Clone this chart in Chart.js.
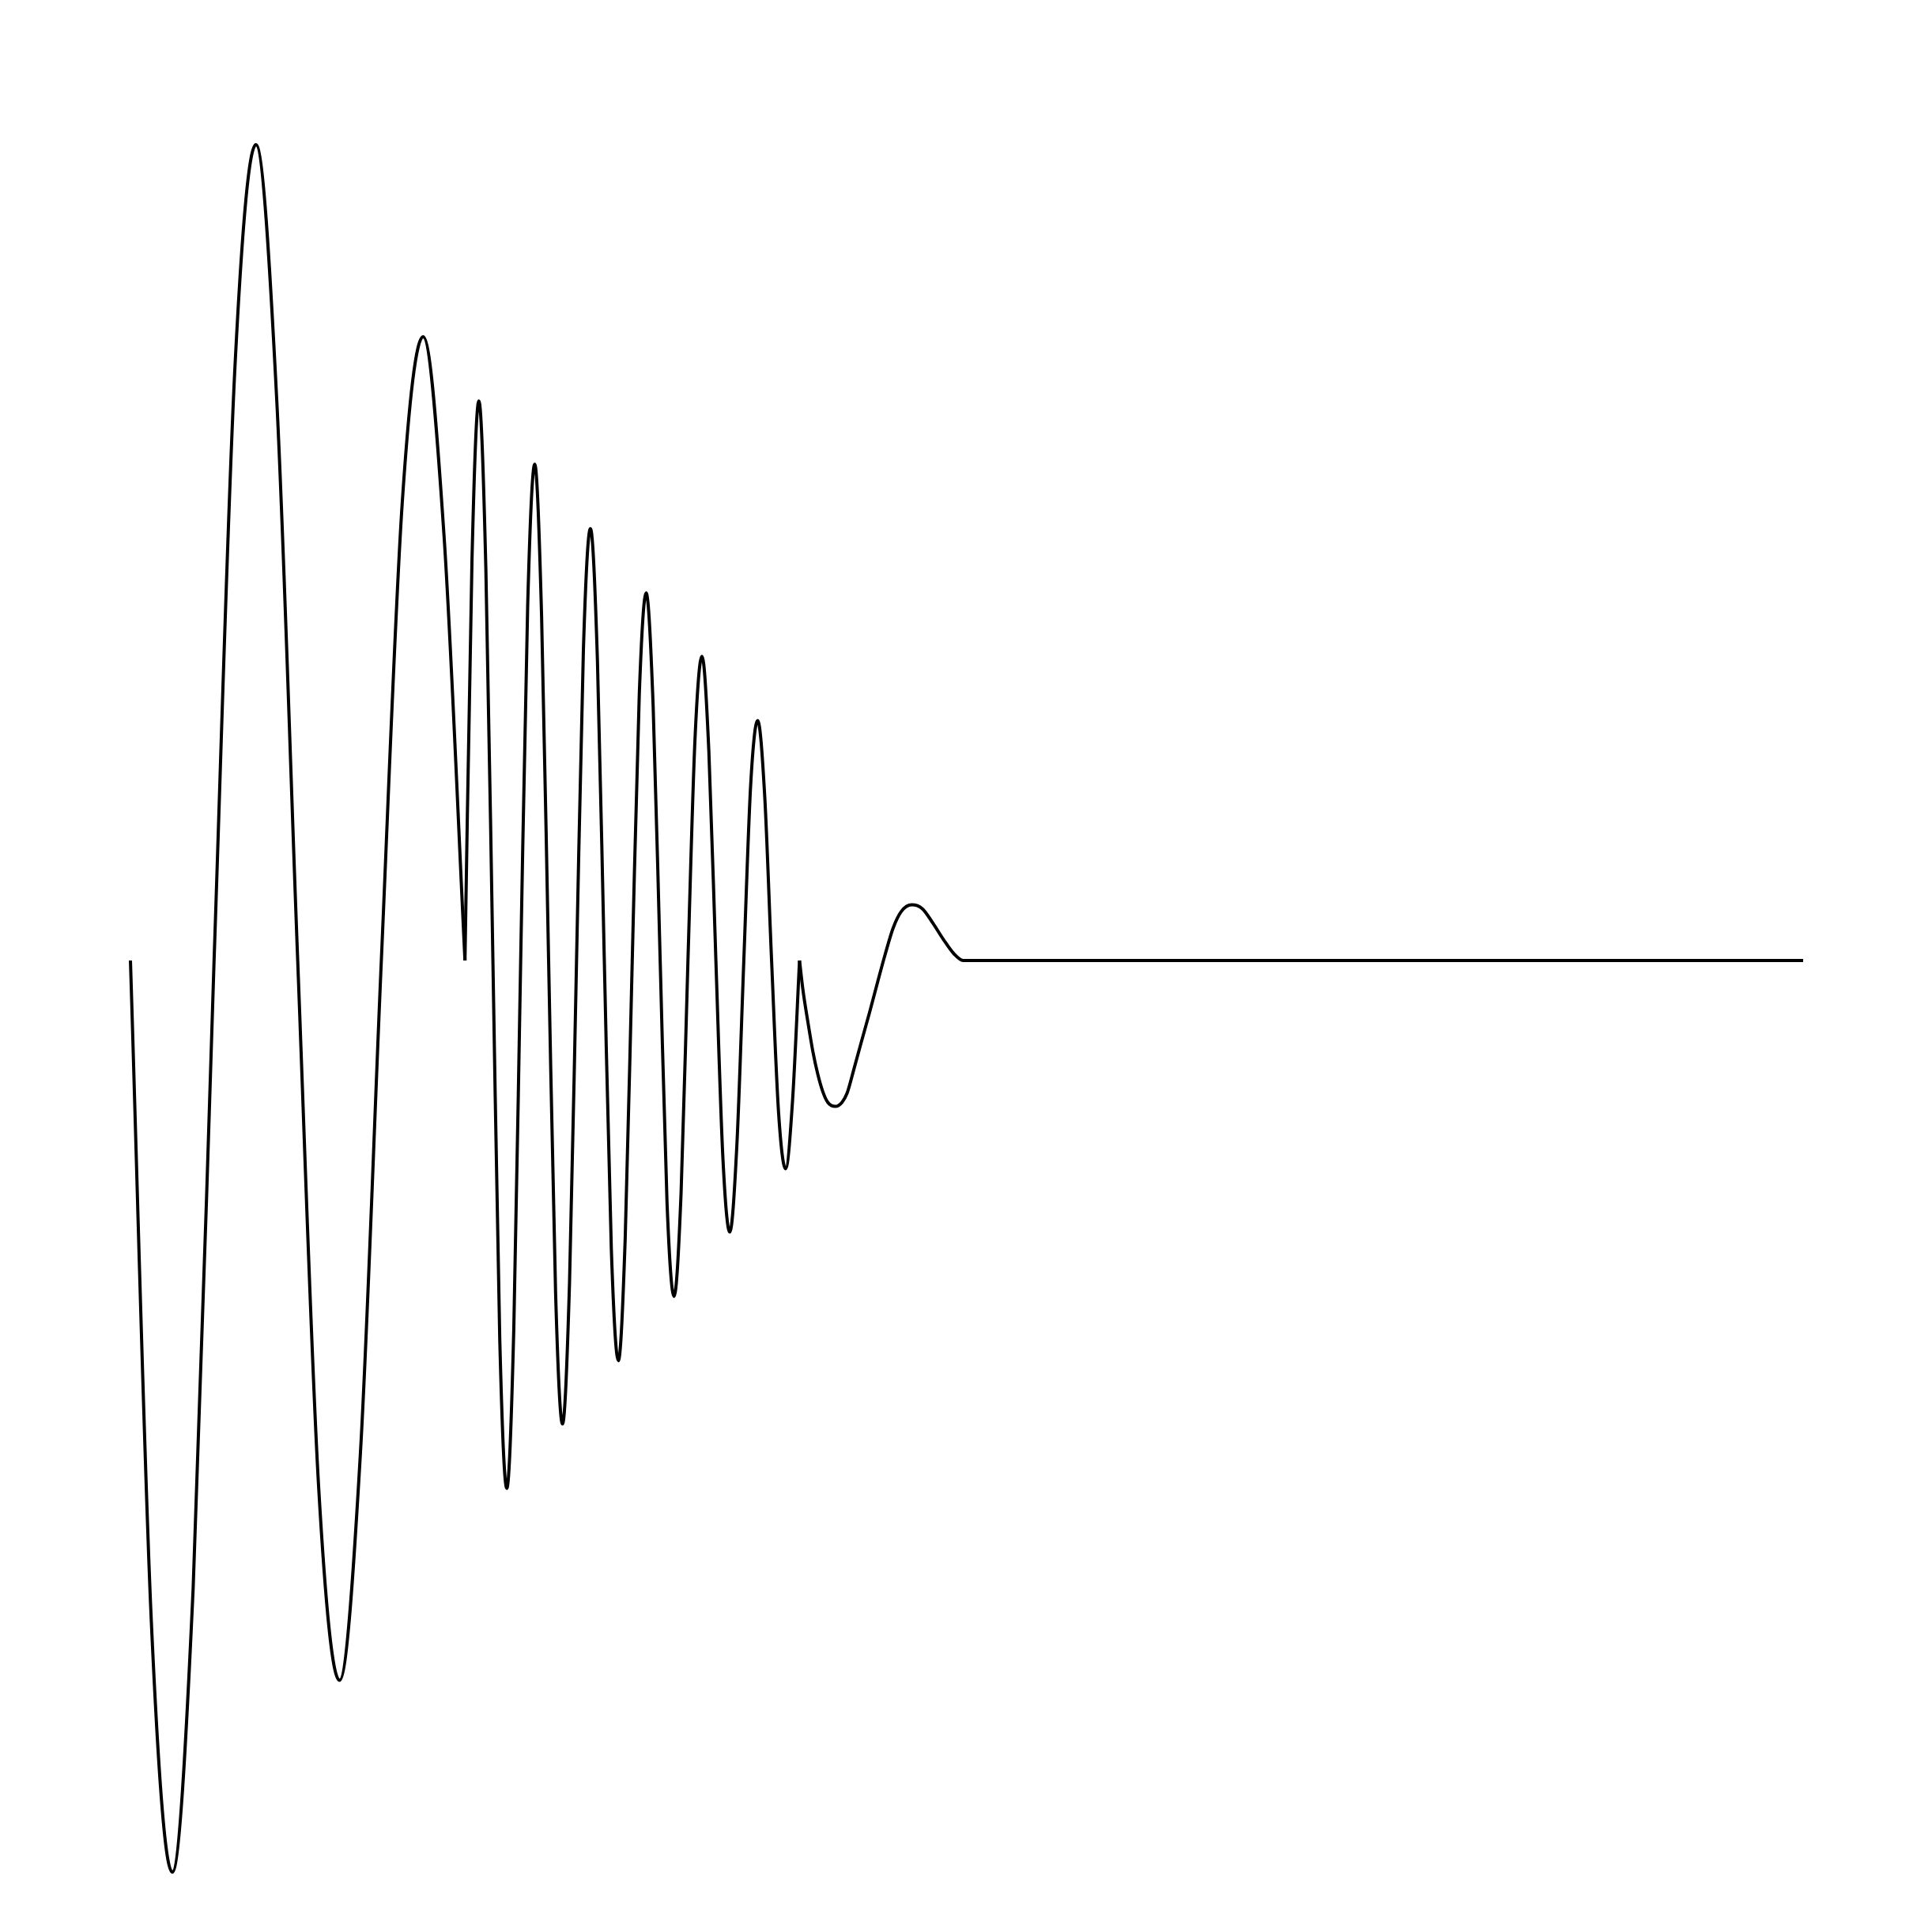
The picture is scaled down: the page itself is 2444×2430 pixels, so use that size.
<!DOCTYPE html>
<html>
<head>
<meta charset="utf-8">
<title>Waveform</title>
<script src="https://cdn.jsdelivr.net/npm/chart.js@4"></script>
<style>
  html, body { margin: 0; padding: 0; background: #ffffff; }
  #wrap { width: 2444px; height: 2430px; position: relative; }
</style>
</head>
<body>
<div id="wrap"><canvas id="waveChart"></canvas></div>
<script>
// time in ms, amplitude -1..1
// first burst, 10 Hz, starts downward
var burstTimes = [0, 12.5, 25, 37.5, 50, 62.5, 75, 87.5, 100, 112.5, 125, 137.5, 150, 162.5, 175, 187.5, 200];
var burstValues = [0, -0.689, -0.95, -0.654, 0, 0.619, 0.85, 0.583, 0, -0.548, -0.75, -0.513, 0, 0.477, 0.65, 0.442, 0];

// second burst, 30 Hz, starts upward
var fastTimes = [200, 204.2, 208.3, 212.5, 216.7, 220.8, 225, 229.2,
  233.3, 237.5, 241.7, 245.8, 250, 254.2, 258.3, 262.5,
  266.7, 270.8, 275, 279.2, 283.3, 287.5, 291.7, 295.8,
  300, 304.2, 308.3, 312.5, 316.7, 320.8, 325, 329.2,
  333.3, 337.5, 341.7, 345.8, 350, 354.2, 358.3, 362.5,
  366.7, 370.8, 375, 379.2, 383.3, 387.5, 391.7, 395.8, 400];
var fastValues = [0, 0.418, 0.583, 0.407, 0, -0.395, -0.55, -0.383,
  0, 0.371, 0.517, 0.359, 0, -0.348, -0.483, -0.336,
  0, 0.324, 0.45, 0.312, 0, -0.301, -0.417, -0.289,
  0, 0.277, 0.383, 0.265, 0, -0.253, -0.35, -0.242,
  0, 0.23, 0.317, 0.218, 0, -0.206, -0.283, -0.194,
  0, 0.183, 0.25, 0.171, 0, -0.159, -0.217, -0.147, 0];

// tail bump then silence
var tailTimes = [400, 402, 405, 408, 411, 414, 417, 421.4, 425.3, 428.5, 432.4, 437.1, 441.9,
  446.6, 451.3, 456, 460.8, 467.1, 473.4, 479.7, 486, 492.3, 497.8, 1000];
var tailValues = [0, -0.03, -0.064, -0.095, -0.119, -0.137, -0.148, -0.152, -0.148, -0.138, -0.114, -0.084, -0.054,
  -0.023, 0.007, 0.034, 0.051, 0.058, 0.054, 0.039, 0.022, 0.007, 0, 0];

function toPoints(times, values) {
  return times.map(function(t, i) { return { x: t, y: values[i] }; });
}

function segment(times, values) {
  return {
    data: toPoints(times, values),
    borderColor: '#000000',
    borderWidth: 4,
    pointRadius: 0,
    cubicInterpolationMode: 'monotone',
    borderCapStyle: 'butt',
    borderJoinStyle: 'round',
    fill: false,
    clip: false
  };
}

var ctx = document.getElementById('waveChart').getContext('2d');
var waveChart = new Chart(ctx, {
  type: 'line',
  data: {
    datasets: [
      segment(burstTimes, burstValues),
      segment(fastTimes, fastValues),
      segment(tailTimes, tailValues)
    ]
  },
  options: {
    responsive: true,
    maintainAspectRatio: false,
    devicePixelRatio: 1,
    animation: false,
    layout: { padding: { left: 165, right: 163, top: 1, bottom: 1 } },
    scales: {
      x: { type: 'linear', min: 0, max: 1000, display: false },
      y: { min: -1, max: 1, display: false }
    },
    plugins: {
      legend: { display: false },
      tooltip: { enabled: false }
    }
  }
});
</script>
</body>
</html>
